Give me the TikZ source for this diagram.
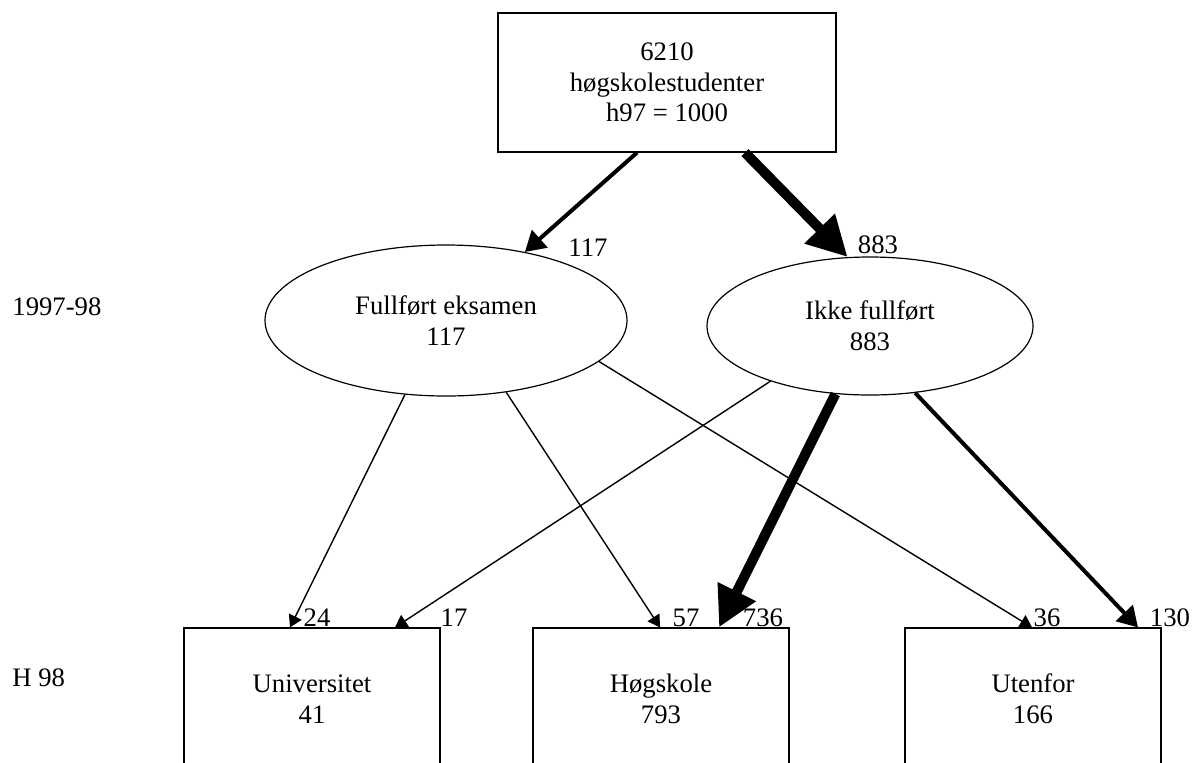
\documentclass[tikz,border=0pt]{standalone}
\usepackage{fontspec}
\setmainfont{Liberation Serif}
\usetikzlibrary{arrows.meta,shapes.geometric}
\begin{document}
\begin{tikzpicture}[x=0.5pt,y=-0.5pt,
  every node/.style={font=\fontsize{13.35}{15.3}\selectfont, inner sep=0pt},
  box/.style={draw, line width=0.6pt, rectangle, align=center},
  oval/.style={draw, line width=0.6pt, ellipse, align=center},
  thinarrow/.style={line width=0.7pt, -{Triangle[length=6pt,width=7pt]}},
  medarrow/.style={line width=2pt, -{Triangle[length=10pt,width=11.5pt]}},
  thickarrow/.style={line width=5pt, -{Triangle[length=20pt,width=20pt]}}]
\useasboundingbox (0,0) rectangle (1192,762);
\clip (0,0) rectangle (1192,762);

\node[box, minimum width=169pt, minimum height=69.5pt] (src) at (667,82.5) {6210\\høgskolestudenter\\h97 = 1000};

\node[oval, minimum width=181pt, minimum height=75.5pt] (fe) at (446,320.5) {Fullført eksamen\\117};
\node[oval, minimum width=163pt, minimum height=69pt] (ik) at (870,326) {Ikke fullført\\883};

\node[box, minimum width=128pt, minimum height=71pt] (uni) at (312,699) {Universitet\\41};
\node[box, minimum width=128pt, minimum height=71pt] (hog) at (661,699) {Høgskole\\793};
\node[box, minimum width=128pt, minimum height=71pt] (ute) at (1033,699) {Utenfor\\166};

\node[anchor=west] (y1) at (12,307) {1997-98};
\node[anchor=west] (y2) at (12,678) {H 98};

\node (l117) at (588,248) {117};
\node (l883) at (878,245) {883};
\node (l24) at (317,618) {24};
\node (l17) at (454,618) {17};
\node (l57) at (686,618) {57};
\node (l736) at (763,618) {736};
\node (l36) at (1047,618) {36};
\node (l130) at (1170,618) {130};

\draw[medarrow] ([xshift=-15pt]src.south) -- (fe.41.2);
\draw[thickarrow] ([xshift=39pt]src.south) -- (ik.108.2);
\draw[thinarrow] (fe.241.2) -- ([xshift=-11pt]uni.north);
\draw[thinarrow] (fe.310.7) -- ([xshift=-0.5pt]hog.north);
\draw[thinarrow] (fe.345.5) -- ([xshift=-0.5pt]ute.north);
\draw[thinarrow] (ik.209.1) -- ([xshift=41.5pt]uni.north);
\draw[thickarrow] (ik.243.8) -- ([xshift=29pt]hog.north);
\draw[medarrow] (ik.304.4) -- ([xshift=52.5pt]ute.north);
\end{tikzpicture}
\end{document}
